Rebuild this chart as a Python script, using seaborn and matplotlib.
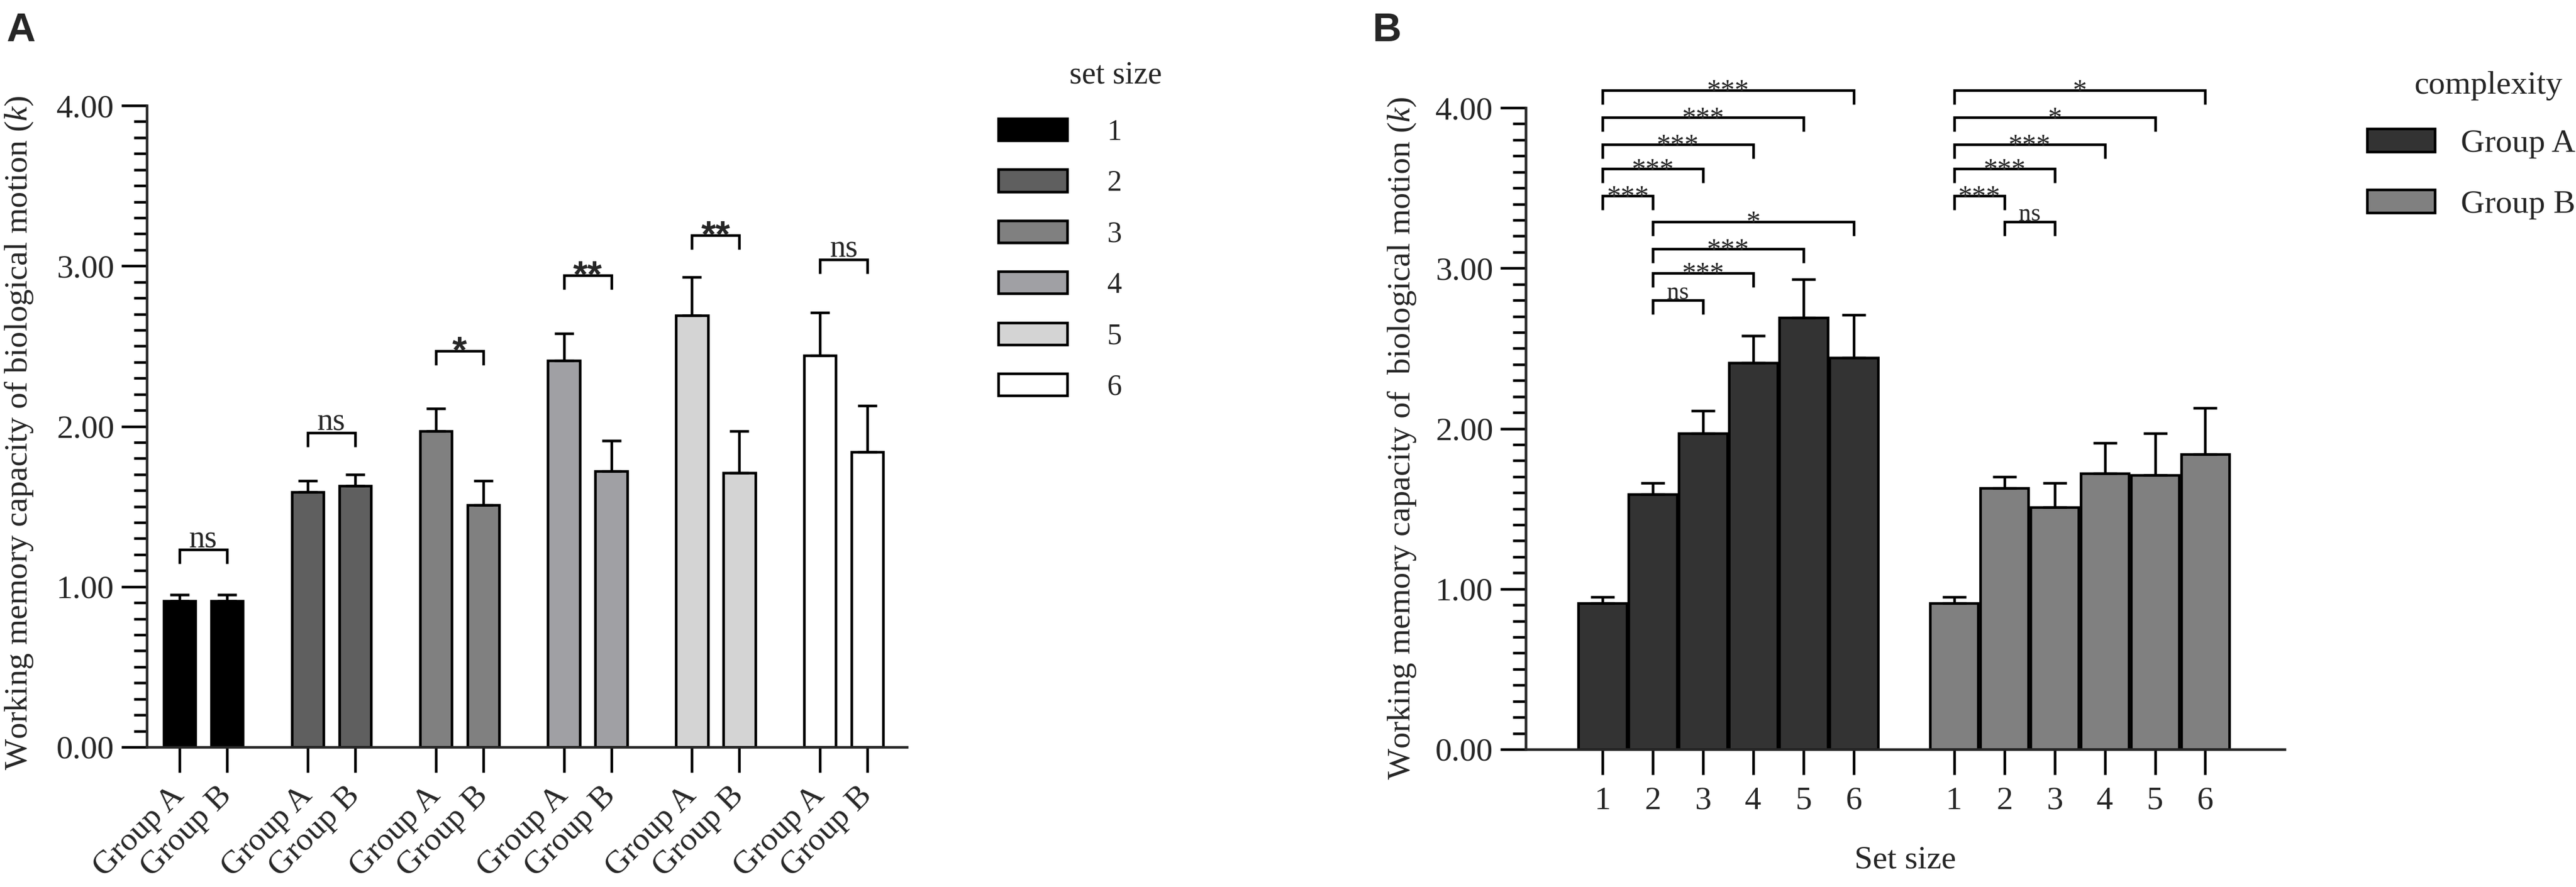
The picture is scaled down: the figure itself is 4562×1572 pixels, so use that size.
import matplotlib.pyplot as plt
import numpy as np
import pandas as pd
import seaborn as sns
from matplotlib.ticker import FormatStrFormatter, MultipleLocator

W, H, DPI = 4562, 1572, 300

set_sizes = ["1", "2", "3", "4", "5", "6"]
groups = ["Group A", "Group B"]
mean_a = [0.91, 1.59, 1.97, 2.41, 2.69, 2.44]
mean_b = [0.91, 1.63, 1.51, 1.72, 1.71, 1.84]
sem_a = [0.04, 0.07, 0.14, 0.17, 0.24, 0.27]
sem_b = [0.04, 0.07, 0.15, 0.19, 0.26, 0.29]

# panel A: Group A vs Group B inside each set size
pair_sig = ["ns", "ns", "*", "**", "**", "ns"]
pair_sig_y = [1.23, 1.96, 2.47, 2.94, 3.19, 3.04]

# panel B: set size comparisons inside each group (from, to, label, height)
comp_a = [(1, 2, "***", 3.45), (1, 3, "***", 3.62), (1, 4, "***", 3.77),
          (1, 5, "***", 3.94), (1, 6, "***", 4.11), (2, 3, "ns", 2.80),
          (2, 4, "***", 2.97), (2, 5, "***", 3.12), (2, 6, "*", 3.29)]
comp_b = [(1, 2, "***", 3.45), (1, 3, "***", 3.62), (1, 4, "***", 3.77),
          (1, 5, "*", 3.94), (1, 6, "*", 4.11), (2, 3, "ns", 3.29)]

set_colors = ["#000000", "#5f5f5f", "#808080", "#a0a0a4", "#d4d4d4", "#ffffff"]
group_colors = ["#333333", "#808080"]

SET_STEP = 2.7   # distance between set-size pairs in panel A
GROUP_STEP = 7   # distance between the two groups in panel B

sns.set_theme(style="ticks")
plt.rcParams["font.family"] = ["Liberation Serif", "DejaVu Serif"]
plt.rcParams["mathtext.fontset"] = "custom"
plt.rcParams["mathtext.rm"] = "Liberation Serif"
plt.rcParams["mathtext.it"] = "Liberation Serif:italic"

means = {"Group A": mean_a, "Group B": mean_b}
sems = {"Group A": sem_a, "Group B": sem_b}

rows_a, rows_b = [], []
for i, s in enumerate(set_sizes):
    for gi, g in enumerate(groups):
        rows_a.append({"pos": i * SET_STEP + gi, "val": means[g][i], "err": sems[g][i],
                       "set": s, "group": g})
for gi, g in enumerate(groups):
    for i, s in enumerate(set_sizes):
        rows_b.append({"pos": gi * GROUP_STEP + i, "val": means[g][i], "err": sems[g][i],
                       "set": s, "group": g})
df_a = pd.DataFrame(rows_a)
df_b = pd.DataFrame(rows_b)


def style_axes(ax, xlim):
    ax.set_xlim(*xlim)
    ax.set_ylim(0, 4)
    ax.yaxis.set_major_locator(MultipleLocator(1))
    ax.yaxis.set_minor_locator(MultipleLocator(0.1))
    ax.yaxis.set_major_formatter(FormatStrFormatter("%.2f"))
    sns.despine(ax=ax)
    for s in ["left", "bottom"]:
        ax.spines[s].set_linewidth(1.1)
    ax.tick_params(which="major", length=10.8, width=1.1, labelsize=14, pad=3, color="black")
    ax.tick_params(axis="y", which="minor", length=5.5, width=1.1, color="black")
    ax.tick_params(axis="x", which="minor", bottom=False)


def bracket(ax, x1, x2, y, label, size, text_dy, family=None, weight="normal", dy=0.088):
    ax.plot([x1, x1, x2, x2], [y - dy, y, y, y - dy], color="black", lw=1.1,
            clip_on=False, solid_capstyle="butt", solid_joinstyle="miter")
    ax.text((x1 + x2) / 2, y + text_dy, label, ha="center", va="baseline",
            fontsize=size, fontweight=weight, family=family, clip_on=False)


fig = plt.figure(figsize=(W / DPI, H / DPI), dpi=DPI)

# ---------------- panel A
ax_a = fig.add_axes([260 / W, 1 - 1324 / H, (1606 - 260) / W, (1324 - 187) / H])
sns.barplot(data=df_a, x="pos", y="val", hue="set", hue_order=set_sizes,
            palette=dict(zip(set_sizes, set_colors)), native_scale=True, dodge=False,
            width=0.67, errorbar=None, saturation=1, edgecolor="black", linewidth=1.1,
            ax=ax_a)
ax_a.errorbar(df_a["pos"], df_a["val"], yerr=[np.zeros(len(df_a)), df_a["err"]],
              fmt="none", ecolor="black", elinewidth=1.1, capsize=4, capthick=1.1)
style_axes(ax_a, (-0.69, 15.33))
ax_a.set_xticks(df_a["pos"])
ax_a.set_xticklabels(df_a["group"], rotation=45, ha="right", va="center",
                     rotation_mode="anchor")
ax_a.tick_params(axis="x", pad=8)
ax_a.set_xlabel("")
ax_a.set_ylabel(r"Working memory capacity of biological motion ($\mathit{k}$)", fontsize=14)
ax_a.yaxis.set_label_coords(-0.147, 0.49)

for i, (lab, y) in enumerate(zip(pair_sig, pair_sig_y)):
    x1 = i * SET_STEP
    if lab == "ns":
        bracket(ax_a, x1, x1 + 1, y, lab, 13.5, 0.015)
    else:
        bracket(ax_a, x1, x1 + 1, y, lab, 16, -0.07, family="Liberation Sans", weight="bold")

sns.move_legend(ax_a, "upper left", bbox_to_anchor=(1768 / W, 1 - 210 / H),
                bbox_transform=fig.transFigure, title="", frameon=False, fontsize=12.5,
                handlelength=2.35, handleheight=0.78, handletextpad=1.35,
                labelspacing=0.8, borderpad=0, borderaxespad=0)
for h in ax_a.get_legend().legend_handles:
    h.set_edgecolor("black")
    h.set_linewidth(1.1)
fig.text(1976 / W, 1 - 147 / H, "set size", ha="center", va="baseline", fontsize=13.5)

# ---------------- panel B
ax_b = fig.add_axes([2702 / W, 1 - 1328 / H, (4046 - 2702) / W, (1328 - 191) / H])
sns.barplot(data=df_b, x="pos", y="val", hue="group", hue_order=groups,
            palette=dict(zip(groups, group_colors)), native_scale=True, dodge=False,
            width=0.96, errorbar=None, saturation=1, edgecolor="black", linewidth=1.1,
            ax=ax_b)
ax_b.errorbar(df_b["pos"], df_b["val"], yerr=[np.zeros(len(df_b)), df_b["err"]],
              fmt="none", ecolor="black", elinewidth=1.1, capsize=5, capthick=1.1)
style_axes(ax_b, (-1.53, 13.58))
ax_b.set_xticks(df_b["pos"])
ax_b.set_xticklabels(df_b["set"])
ax_b.tick_params(axis="x", pad=5)
ax_b.set_xlabel("Set size", fontsize=14, va="top")
ax_b.xaxis.set_label_coords(0.5, -0.15)
ax_b.set_ylabel(r"Working memory capacity of  biological motion ($\mathit{k}$)", fontsize=14)
ax_b.yaxis.set_label_coords(-0.142, 0.485)

for gi, comps in enumerate([comp_a, comp_b]):
    base = gi * GROUP_STEP - 1
    for a, b, lab, y in comps:
        if lab == "ns":
            bracket(ax_b, base + a, base + b, y, lab, 10.5, 0.008)
        else:
            bracket(ax_b, base + a, base + b, y, lab, 12, -0.055)

sns.move_legend(ax_b, "upper left", bbox_to_anchor=(4192 / W, 1 - 228 / H),
                bbox_transform=fig.transFigure, title="", frameon=False, fontsize=14,
                handlelength=2.05, handleheight=0.7, handletextpad=0.8,
                labelspacing=0.95, borderpad=0, borderaxespad=0)
for h in ax_b.get_legend().legend_handles:
    h.set_edgecolor("black")
    h.set_linewidth(1.1)
fig.text(4407 / W, 1 - 166 / H, "complexity", ha="center", va="baseline", fontsize=14)

# panel letters
fig.text(11 / W, 1 - 22 / H, "A", family="Liberation Sans", fontweight="bold",
         fontsize=17, va="top", ha="left")
fig.text(2430 / W, 1 - 22 / H, "B", family="Liberation Sans", fontweight="bold",
         fontsize=17, va="top", ha="left")

fig.savefig("out.png", dpi=DPI)
